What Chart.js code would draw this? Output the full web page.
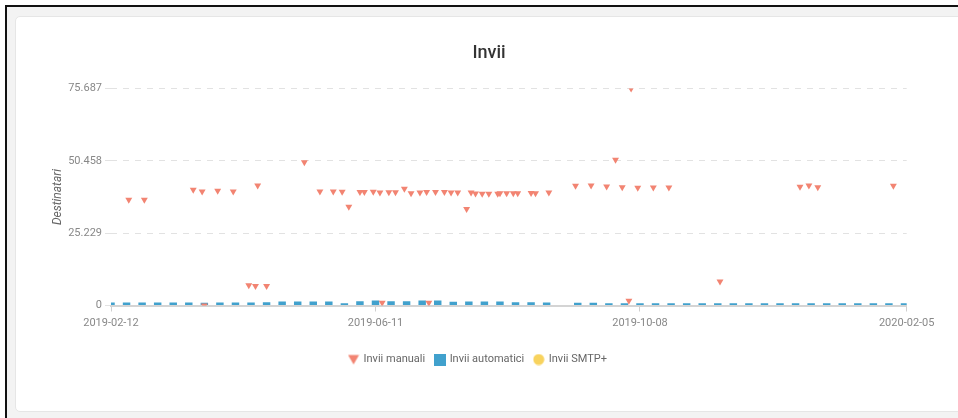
<!DOCTYPE html>
<html lang="it">
<head>
<meta charset="utf-8">
<title>Invii</title>
<script src="https://cdn.jsdelivr.net/npm/chart.js@4.4.1/dist/chart.umd.min.js"></script>
<style>
    html, body { margin: 0; padding: 0; background: #fff; overflow: hidden; }
    .frame {
        position: absolute; left: 5px; top: 5px; width: 1000px; height: 500px;
        border-left: 2px solid #111; border-top: 2px solid #111; background: #f3f3f3;
    }
    .card {
        position: absolute; left: 8px; top: 9px; width: 1000px; height: 394px;
        background: #fff; border: 1px solid #e6e6e6; border-radius: 5px;
    }
    canvas { position: absolute; left: 0; top: 0; }
</style>
</head>
<body>
<div class="frame">
    <div class="card">
        <canvas id="invii-chart" width="946" height="394" style="width:946px;height:394px"></canvas>
    </div>
</div>
<script>
// giorni contati dal 2019-02-12
const xTickDays = [0, 119, 238, 358];
const xTickLabels = ['2019-02-12', '2019-06-11', '2019-10-08', '2020-02-05'];
const yTickValues = [0, 25229, 50458, 75687];

const manualDays = [8, 15, 37, 41, 42, 48, 55, 62, 65, 66, 70, 87, 94, 100, 104, 107, 112, 114, 118, 121,
    122, 125, 128, 132, 135, 139, 142, 143, 146, 150, 153, 156, 160, 162, 164, 167, 170, 174, 175, 178,
    181, 183, 189, 191, 197, 209, 216, 223, 227, 230, 233, 234, 237, 244, 251, 274, 310, 314, 318, 352];
const manualValues = [36900, 36900, 40400, 39800, 0, 40000, 39800, 7100, 6800, 41900, 6800, 49950, 39800, 39800, 39700, 34500, 39600, 39600, 39700, 39400,
    950, 39500, 39500, 40700, 39200, 39400, 39600, 950, 39600, 39600, 39400, 39400, 33700, 39400, 39100, 39000, 39000, 39000, 39200, 39200,
    39200, 39200, 39300, 39200, 39400, 41800, 41900, 41500, 50900, 41300, 1700, 75687, 41100, 41200, 41200, 8400, 41400, 41900, 41300, 41800];

const autoDays = [0, 7, 14, 21, 28, 35, 42, 49, 56, 63, 70, 77, 84, 91, 98, 105, 112, 119, 126, 133,
    140, 147, 154, 161, 168, 175, 182, 189, 196, 203, 210, 217, 224, 231, 238, 245, 252, 259, 266, 273,
    280, 287, 294, 301, 308, 315, 322, 329, 336, 343, 350, 357];
const autoValues = [1050, 1050, 1050, 1050, 1050, 1050, 1000, 1050, 1050, 1050, 1160, 1400, 1400, 1400, 1400, 810, 1510, 1750, 1510, 1510,
    1750, 1750, 1300, 1400, 1400, 1400, 1160, 1160, 1050, 0, 950, 950, 810, 810, 810, 810, 810, 810, 810, 810,
    810, 810, 810, 810, 810, 810, 810, 810, 810, 810, 810, 810];

const smtpDays = [];
const smtpValues = [];

const FONT = 'Roboto, "Noto Sans", sans-serif';
const COLOR_MANUAL = '#f28472';
const COLOR_AUTO = '#41a1cd';
const COLOR_SMTP = '#f8d35e';

function formatThousands(v) {
    return String(v).replace(/\B(?=(\d{3})+(?!\d))/g, '.');
}

function toPoints(days, values) {
    return days.map((d, i) => ({ x: d, y: values[i] }));
}

// piccole icone per la legenda
function makeIcon(shape, color) {
    const c = document.createElement('canvas');
    c.width = 12;
    c.height = 12;
    const ctx = c.getContext('2d');
    ctx.fillStyle = color;
    ctx.beginPath();
    if (shape === 'triangle') {
        ctx.moveTo(0.5, 1.5);
        ctx.lineTo(11.5, 1.5);
        ctx.lineTo(6, 11);
        ctx.closePath();
    } else if (shape === 'square') {
        ctx.rect(0, 0, 12, 12);
    } else {
        ctx.arc(6, 6, 5.5, 0, Math.PI * 2);
    }
    ctx.fill();
    return c;
}

const legendIcons = [
    makeIcon('triangle', COLOR_MANUAL),
    makeIcon('square', COLOR_AUTO),
    makeIcon('circle', COLOR_SMTP)
];

// la legenda nel grafico originale sta un po' a sinistra del centro
const legendNudge = {
    id: 'legendNudge',
    afterLayout(chart) {
        if (chart.legend) {
            chart.legend.left -= 11;
            chart.legend.right -= 11;
        }
    }
};

new Chart(document.getElementById('invii-chart'), {
    type: 'scatter',
    data: {
        datasets: [
            {
                label: 'Invii manuali',
                data: toPoints(manualDays, manualValues),
                backgroundColor: COLOR_MANUAL,
                borderColor: COLOR_MANUAL,
                borderWidth: 0,
                pointStyle: 'triangle',
                pointRotation: 180,
                pointRadius: 4,
                clip: 0
            },
            {
                type: 'bar',
                label: 'Invii automatici',
                data: toPoints(autoDays, autoValues),
                backgroundColor: COLOR_AUTO,
                borderWidth: 0,
                barPercentage: 0.6,
                categoryPercentage: 0.8,
                clip: 0
            },
            {
                label: 'Invii SMTP+',
                data: toPoints(smtpDays, smtpValues),
                backgroundColor: COLOR_SMTP,
                borderColor: COLOR_SMTP,
                pointStyle: 'circle',
                pointRadius: 4,
                clip: 0
            }
        ]
    },
    options: {
        responsive: false,
        animation: false,
        layout: {
            padding: { top: 20, left: 20, right: 20, bottom: 36 }
        },
        plugins: {
            title: {
                display: true,
                text: 'Invii',
                color: '#333',
                font: { family: FONT, size: 18, weight: '500' },
                padding: { top: 6, bottom: 24 }
            },
            legend: {
                position: 'bottom',
                labels: {
                    usePointStyle: true,
                    pointStyleWidth: 9,
                    boxHeight: 11,
                    padding: 10,
                    color: '#666',
                    font: { family: FONT, size: 11 },
                    generateLabels: (chart) => {
                        const items = Chart.defaults.plugins.legend.labels.generateLabels(chart);
                        items.forEach((item, i) => {
                            item.pointStyle = legendIcons[i];
                            item.rotation = 0;
                        });
                        return items;
                    }
                }
            },
            tooltip: { enabled: false }
        },
        scales: {
            x: {
                type: 'linear',
                min: 0,
                max: 358,
                offset: false,
                afterBuildTicks: (scale) => {
                    scale.ticks = xTickDays.map(v => ({ value: v }));
                },
                afterFit: (scale) => {
                    scale.height = 38.5;
                },
                ticks: {
                    autoSkip: false,
                    maxRotation: 0,
                    padding: 5,
                    color: '#888',
                    font: { family: FONT, size: 11 },
                    callback: (v) => xTickLabels[xTickDays.indexOf(v)]
                },
                grid: {
                    offset: false,
                    drawOnChartArea: false,
                    tickLength: 6,
                    tickColor: '#cfcfcf'
                },
                border: { display: true, color: '#d4d4d4', width: 2 }
            },
            y: {
                min: 0,
                max: 75687,
                afterBuildTicks: (scale) => {
                    scale.ticks = yTickValues.map(v => ({ value: v }));
                },
                afterFit: (scale) => {
                    scale.width = 75;
                },
                ticks: {
                    padding: 3,
                    color: '#888',
                    font: { family: FONT, size: 11 },
                    callback: (v) => formatThousands(v)
                },
                grid: {
                    color: '#e2e2e2',
                    tickLength: 6,
                    tickColor: '#e2e2e2'
                },
                border: { display: false, dash: [6, 6] },
                title: {
                    display: true,
                    text: 'Destinatari',
                    color: '#666',
                    font: { family: FONT, size: 12, style: 'italic' },
                    padding: { top: 15, bottom: 2 }
                }
            },
            // asse vuoto a destra: solo spazio, come nel grafico originale
            yRight: {
                position: 'right',
                min: 0,
                max: 75687,
                afterFit: (scale) => {
                    scale.width = 35.3;
                },
                ticks: { display: false },
                grid: { display: false },
                border: { display: false }
            }
        }
    },
    plugins: [legendNudge]
});
</script>
</body>
</html>
